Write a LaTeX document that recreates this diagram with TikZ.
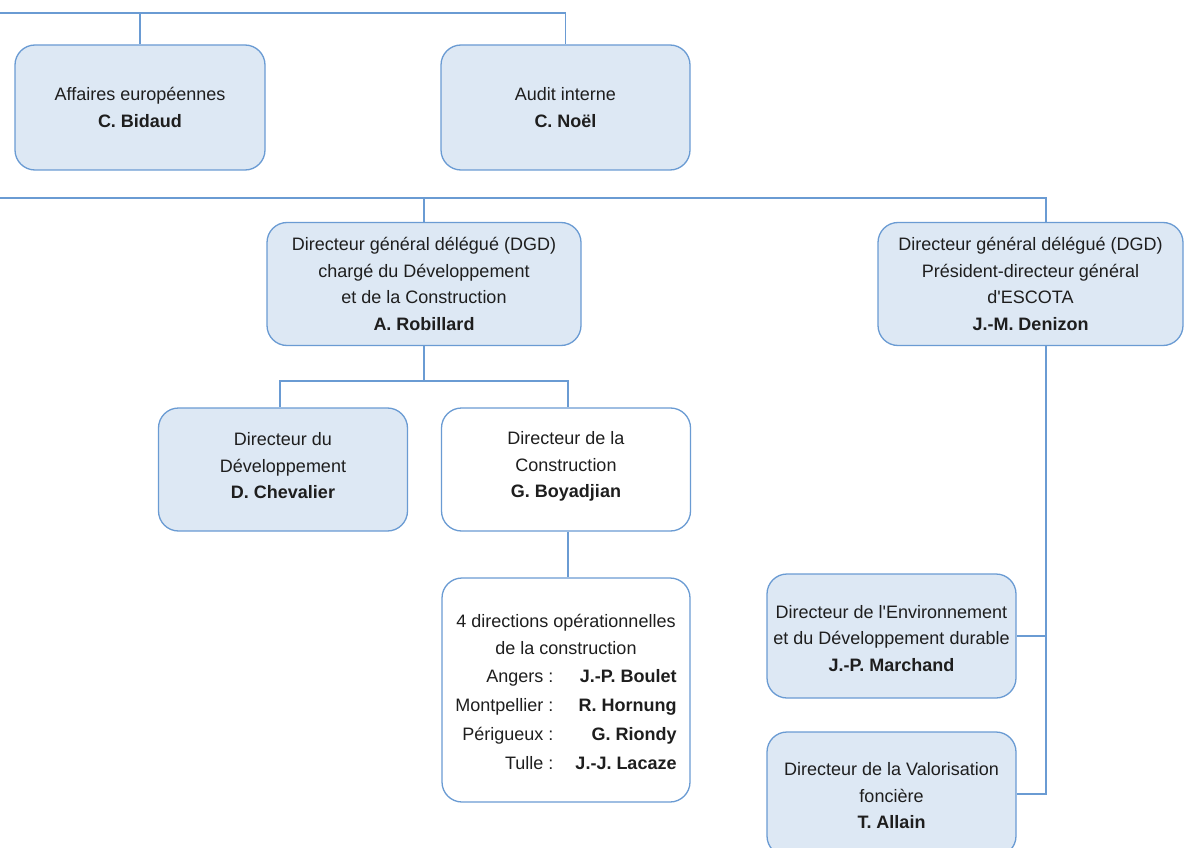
\documentclass[tikz,border=0pt]{standalone}
\usepackage{fontspec}
\newfontfamily\lib{Liberation Sans}
\setmainfont{Liberation Sans}
\definecolor{lc}{RGB}{106,155,211}
\definecolor{bf}{RGB}{221,232,244}
\definecolor{tx}{RGB}{30,30,30}
\renewcommand\arraystretch{1.1}
\begin{document}
\begin{tikzpicture}[x=1pt,y=-1pt,
  txt/.style={align=center, font=\lib\fontsize{18}{26.5}\selectfont, text=tx, inner sep=0pt},
  orgbox/.style={txt, draw=lc, fill=bf, rounded corners=20pt, line width=1.3pt},
  whitebox/.style={orgbox, fill=white},
  conn/.style={draw=lc, line width=1.3pt}]
\useasboundingbox (0,0) rectangle (1184,848);

\node[orgbox, minimum width=250pt, minimum height=125pt] (eu) at (140,107.5)
  {Affaires européennes\\\textbf{C. Bidaud}};
\node[orgbox, minimum width=249pt, minimum height=125pt] (audit) at (565.5,107.5)
  {Audit interne\\\textbf{C. Noël}};
\node[orgbox, minimum width=314pt, minimum height=123pt] (rob) at (424,284)
  {Directeur général délégué (DGD)\\chargé du Développement\\et de la Construction\\\textbf{A. Robillard}};
\node[orgbox, minimum width=305pt, minimum height=123pt] (den) at (1030.5,284)
  {Directeur général délégué (DGD)\\Président-directeur général\\d'ESCOTA\\\textbf{J.-M. Denizon}};
\node[orgbox, minimum width=249pt, minimum height=123pt] (chev) at (283,469.5) {};
\node[txt] (chevt) at (283,466) {Directeur du\\Développement\\\textbf{D. Chevalier}};
\node[whitebox, minimum width=249pt, minimum height=123pt] (boy) at (566,469.5) {};
\node[txt] (boyt) at (566,466.5) {Directeur de la\\Construction\\\textbf{G. Boyadjian}};
\node[whitebox, minimum width=248pt, minimum height=224pt] (dir4) at (566,690) {};
\node[txt] (dir4t) at (566,696.5)
  {4 directions opérationnelles\\de la construction\\[6pt]
   \begin{tabular}{@{}r@{\hspace{22pt}}r@{}}
   Angers~: & \textbf{J.-P. Boulet}\\
   Montpellier~: & \textbf{R. Hornung}\\
   Périgueux~: & \textbf{G. Riondy}\\
   Tulle~: & \textbf{J.-J. Lacaze}
   \end{tabular}};
\node[orgbox, minimum width=249pt, minimum height=124pt] (mar) at (891.5,636) {};
\node[txt] (mart) at (891.5,638.5)
  {Directeur de l'Environnement\\et du Développement durable\\\textbf{J.-P. Marchand}};
\node[orgbox, minimum width=249pt, minimum height=124pt] (all) at (891.5,794) {};
\node[txt] (allt) at (891.5,796)
  {Directeur de la Valorisation\\foncière\\\textbf{T. Allain}};

% connectors
\coordinate (L1) at (0,13);
\draw[conn] (L1) -- (L1 -| audit.north) -- (audit.north);
\draw[conn] (eu.north) -- (eu.north |- L1);

\coordinate (L2) at (0,198);
\coordinate (dn) at ([xshift=15.5pt]den.north);
\coordinate (ds) at ([xshift=15.5pt]den.south);
\draw[conn] (L2) -- (L2 -| dn) -- (dn);
\draw[conn] (rob.north) -- (rob.north |- L2);

\coordinate (L3) at (0,381);
\coordinate (cn) at ([xshift=-3pt]chev.north);
\coordinate (bn) at ([xshift=2pt]boy.north);
\coordinate (bs) at ([xshift=2pt]boy.south);
\draw[conn] (rob.south) -- (rob.south |- L3);
\draw[conn] (cn) -- (cn |- L3) -- (bn |- L3) -- (bn);
\draw[conn] (bs) -- (bs |- dir4.north);

\draw[conn] (ds) -- (ds |- all.east) -- (all.east);
\draw[conn] (mar.east) -- (mar.east -| ds);
\end{tikzpicture}
\end{document}
